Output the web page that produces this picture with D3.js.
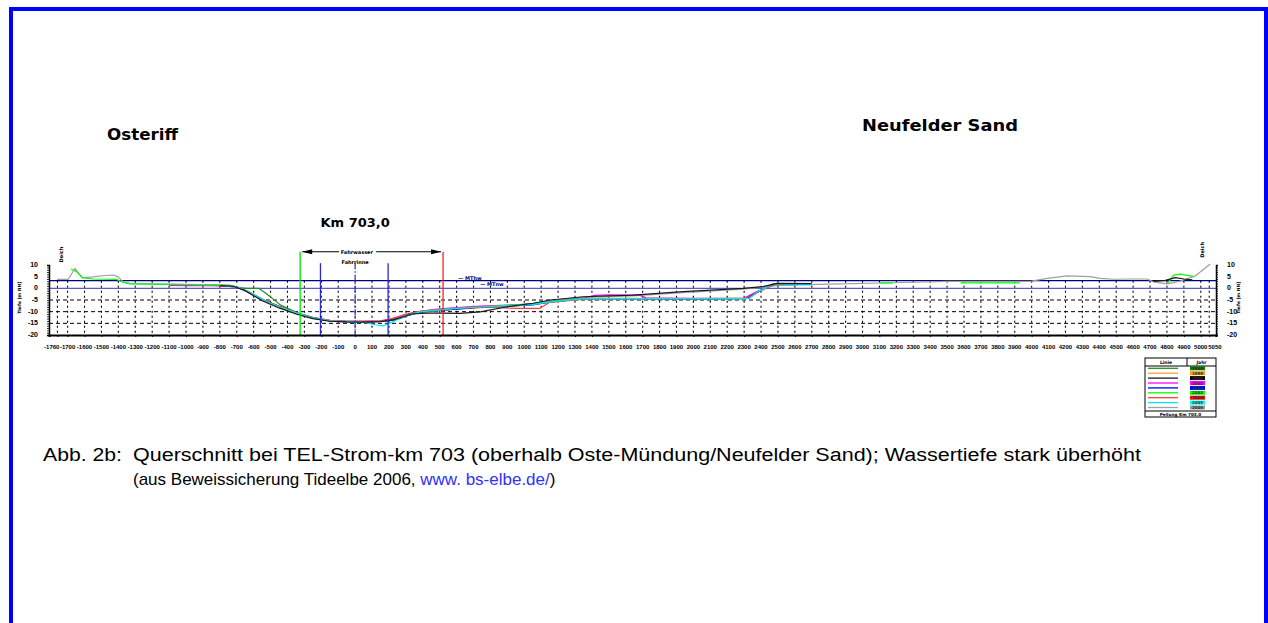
<!DOCTYPE html>
<html>
<head>
<meta charset="utf-8">
<script src="https://cdn.jsdelivr.net/npm/d3@7"></script>
<style>
html,body{margin:0;padding:0;background:#fff;}
svg{display:block;}
</style>
</head>
<body>
<svg id="chart" width="1268" height="623"></svg>
<script>
// Survey years and their line colours (legend order)
const years = ["1998","1999","2000","2001","2002","2003","2004","2005","2006"];
const lineColors = ["#1f8f1f","#ffa040","#1a1a1a","#ff00ff","#0000ff","#00ff00","#ff3b3b","#00e5ff","#a0a0a0"];
const boxColors  = ["#008000","#ff9900","#000000","#ff00ff","#0000ff","#00ff00","#ff0000","#00ffff","#999999"];

// Axis ticks
const heightTicks = [10, 5, 0, -5, -10, -15, -20];
const dashedLevels = [-5, -10, -15];
const stationTicks = [-1760,-1700,-1600,-1500,-1400,-1300,-1200,-1100,-1000,-900,-800,-700,-600,-500,-400,-300,-200,-100,0,100,200,300,400,500,600,700,800,900,1000,1100,1200,1300,1400,1500,1600,1700,1800,1900,2000,2100,2200,2300,2400,2500,2600,2700,2800,2900,3000,3100,3200,3300,3400,3500,3600,3700,3800,3900,4000,4100,4200,4300,4400,4500,4600,4700,4800,4900,5000,5050];

// Tide levels [m NN]
const mthw = 3.3;
const mtnw = 0.0;

// Fairway marks [m from axis]
const fahrwasser = [-325, 520];
const fahrrinne = [-205, 195];
const achse = 0;

// Cross-section surveys: [station m, height m NN]; null = no data
const p1998 = [[-850,1.3],[-760,1.2],[-700,0.3],[-640,0.0],[-570,0.0],[-520,-2.5],[-443,-7.1],[-345,-10.4],[-250,-12.4],[-150,-13.7],[-50,-14.1],[50,-14.2],[150,-14.0],[220,-13.3],[270,-12.4],[320,-11.2],[390,-10.2],[490,-9.6],[590,-8.9],[740,-8.2],[900,-7.4],[1050,-6.8],[1160,-5.9],[1350,-4.6],[1500,-4.5],[1700,-4.4],[2000,-4.5],[2300,-4.4],[2380,-1.6],[2480,1.7],[2620,1.6]];
const p1999 = [[-820,1.2],[-720,1.0],[-660,-0.6],[-560,-4.4],[-450,-7.6],[-345,-10.9],[-250,-12.8],[-150,-13.9],[-50,-14.5],[50,-14.4],[150,-14.1],[220,-13.5],[260,-12.9],[310,-11.6],[384,-10.3],[485,-9.6],[580,-9.0],[740,-8.3],[900,-7.6],[1050,-7.0],[1153,-5.9],[1348,-4.6],[1550,-4.5],[1800,-4.6],[2050,-4.4],[2300,-4.5],[2380,-1.5],[2480,1.8],[2600,1.7]];
const p2000 = [[-800,1.2],[-720,0.9],[-650,-1.0],[-550,-5.3],[-450,-8.4],[-345,-11.1],[-250,-13.0],[-150,-14.1],[-50,-14.4],[50,-14.5],[150,-14.3],[230,-13.4],[280,-12.3],[330,-11.0],[420,-10.6],[500,-10.6],[620,-10.7],[740,-10.1],[900,-7.9],[1052,-6.4],[1153,-5.0],[1348,-3.6],[1644,-2.9],[1939,-1.4],[2294,0.0],[2412,0.7],[2495,2.1],[2700,2.0],[2750,null],[4720,3.0],[4790,3.4],[4850,4.6],[4900,4.0],[4950,3.6]];
const p2001 = [[-1100,1.3],[-980,1.2],[-850,1.1],[-740,0.9],[-670,-0.3],[-560,-4.5],[-450,-7.8],[-345,-10.6],[-250,-12.7],[-150,-13.8],[-50,-14.2],[50,-14.1],[150,-13.9],[230,-13.0],[290,-11.6],[360,-10.2],[470,-9.0],[580,-8.4],[740,-7.6],[900,-7.2],[1050,-6.6],[1153,-5.6],[1348,-4.2],[1420,-3.0],[1500,-2.8],[1680,-2.9],[1720,-4.1],[2000,-4.3],[2300,-4.2],[2380,-1.3],[2480,1.9],[2600,1.8]];
const p2002 = [[-780,1.1],[-700,0.5],[-630,-1.5],[-540,-5.0],[-440,-8.0],[-345,-10.8],[-250,-12.8],[-150,-14.0],[-50,-14.4],[50,-14.5],[150,-14.2],[220,-13.7],[260,-13.0],[310,-11.7],[384,-10.2],[485,-9.5],[580,-9.0],[740,-8.1],[900,-7.6],[1050,-7.1],[1153,-5.8],[1348,-4.4],[1600,-4.4],[1900,-4.5],[2200,-4.4],[2320,-4.3],[2390,-1.2],[2470,1.8],[2560,1.9]];
const p2003 = [[-1680,8.3],[-1645,7.0],[-1610,4.5],[-1550,4.0],[-1480,3.9],[-1410,3.8],[-1370,2.5],[-1330,1.9],[-1200,1.8],[-1000,1.6],[-900,1.5],[-760,1.3],[-690,0.4],[-620,-1.8],[-540,-5.1],[-443,-8.0],[-345,-10.7],[-250,-12.7],[-150,-13.9],[-50,-14.3],[50,-14.3],[150,-14.1],[220,-13.5],[260,-12.7],[310,-11.3],[384,-9.9],[485,-9.2],[580,-8.7],[740,-7.9],[900,-7.3],[1050,-6.7],[1153,-5.6],[1348,-4.3],[1600,-4.3],[1900,-4.4],[2200,-4.3],[2330,-4.2],[2380,-1.4],[2483,1.9],[2600,1.7],[2650,null],[3100,2.3],[3180,2.3],[3200,null],[3580,2.3],[3930,2.3],[3950,null],[4800,1.9],[4840,5.7],[4880,6.1],[4960,5.0]];
const p2004 = [[-800,1.2],[-700,0.6],[-640,-1.2],[-550,-4.8],[-450,-7.7],[-345,-10.6],[-250,-12.5],[-150,-13.7],[-50,-14.1],[50,-14.2],[150,-14.0],[200,-13.3],[250,-12.2],[300,-11.0],[384,-9.9],[485,-9.1],[580,-8.6],[740,-7.8],[950,-8.6],[1090,-8.6],[1153,-5.9],[1348,-4.5],[1600,-4.4],[1900,-4.5],[2200,-4.4],[2330,-4.3],[2380,-1.5],[2480,1.8],[2600,1.6]];
const p2005 = [[-780,1.1],[-690,0.3],[-620,-1.9],[-540,-5.2],[-443,-8.1],[-345,-10.6],[-250,-12.6],[-150,-13.9],[-50,-14.3],[50,-14.6],[120,-15.6],[165,-16.1],[210,-14.8],[260,-13.0],[310,-11.5],[384,-10.1],[485,-9.3],[580,-8.7],[740,-8.0],[900,-7.5],[1050,-7.0],[1153,-5.8],[1348,-4.4],[1600,-4.4],[1900,-4.4],[2200,-4.4],[2330,-4.3],[2385,-1.3],[2470,1.9],[2560,1.7],[2700,1.5]];
const p2006 = [[-1762,3.8],[-1697,3.8],[-1656,8.6],[-1616,4.6],[-1549,4.9],[-1478,5.5],[-1431,5.7],[-1401,4.9],[-1372,2.8],[-1330,2.1],[-1212,1.9],[-917,1.6],[-739,1.4],[-680,0.2],[-640,-1.4],[-544,-5.0],[-443,-7.9],[-345,-10.7],[-247,-12.6],[-148,-13.9],[-50,-14.3],[50,-14.4],[150,-14.2],[220,-13.6],[260,-12.8],[307,-11.4],[384,-10.0],[485,-9.4],[579,-8.8],[739,-8.0],[900,-7.5],[1052,-6.6],[1153,-5.3],[1348,-3.9],[1644,-3.2],[1939,-1.8],[2294,-0.3],[2412,0.5],[2513,1.4],[2800,1.8],[3181,2.4],[3500,3.0],[3950,3.0],[4000,3.1],[4092,4.3],[4210,5.3],[4346,5.0],[4405,4.3],[4482,3.9],[4600,4.0],[4683,4.0],[4719,2.8],[4802,1.9],[4878,3.1],[4967,5.3],[5056,10.4]];

const profiles = [p1998, p1999, p2000, p2001, p2002, p2003, p2004, p2005, p2006];
const drawOrder = [8, 0, 1, 3, 4, 5, 6, 7, 2];

const svg = d3.select("#chart");
svg.append("rect").attr("width", 1268).attr("height", 623).attr("fill", "#fff");

// page frame
svg.append("rect")
  .attr("x", 11).attr("y", 9).attr("width", 1255).attr("height", 700)
  .attr("fill", "none").attr("stroke", "#0000ff").attr("stroke-width", 4);

const x = d3.scaleLinear().domain([-1810, 5090]).range([49, 1216]);
const y = d3.scaleLinear().domain([-20, 10]).range([335, 265]);

const bold = "'DejaVu Sans', Verdana, sans-serif";
const arial = "'Liberation Sans', Arial, sans-serif";

// place names and profile title
svg.append("text").attr("x", 107).attr("y", 140).attr("font-family", bold)
  .attr("font-weight", "bold").attr("font-size", 16.5).attr("fill", "#000")
  .attr("textLength", 71).attr("lengthAdjust", "spacingAndGlyphs").text("Osteriff");
svg.append("text").attr("x", 862).attr("y", 131).attr("font-family", bold)
  .attr("font-weight", "bold").attr("font-size", 16.5).attr("fill", "#000")
  .attr("textLength", 156).attr("lengthAdjust", "spacingAndGlyphs").text("Neufelder Sand");
svg.append("text").attr("x", x(0)).attr("y", 227).attr("text-anchor", "middle").attr("font-family", bold)
  .attr("font-weight", "bold").attr("font-size", 13).attr("fill", "#000").text("Km 703,0");

const g = svg.append("g");

// vertical dotted grid at stations
g.selectAll("line.vg").data(stationTicks).join("line").attr("class", "vg")
  .attr("x1", d => x(d)).attr("x2", d => x(d))
  .attr("y1", y(mthw)).attr("y2", y(-20))
  .attr("stroke", "#000").attr("stroke-width", 1.1).attr("stroke-dasharray", "2,3");

// horizontal dashed grid
g.selectAll("line.hg").data(dashedLevels).join("line").attr("class", "hg")
  .attr("x1", x.range()[0]).attr("x2", x.range()[1])
  .attr("y1", d => y(d)).attr("y2", d => y(d))
  .attr("stroke", "#000").attr("stroke-width", 1).attr("stroke-dasharray", "4,3");

// tide levels
g.append("line").attr("x1", x.range()[0]).attr("x2", x.range()[1])
  .attr("y1", y(mthw)).attr("y2", y(mthw)).attr("stroke", "#00007a").attr("stroke-width", 1.3);
g.append("line").attr("x1", x.range()[0]).attr("x2", x.range()[1])
  .attr("y1", y(mtnw)).attr("y2", y(mtnw)).attr("stroke", "#5a5ac8").attr("stroke-width", 1.3);
g.append("text").attr("x", x(610)).attr("y", y(mthw) - 1).attr("font-family", bold).attr("font-weight", "bold")
  .attr("font-size", 5).attr("fill", "#00007a").text("— MThw");
g.append("text").attr("x", x(740)).attr("y", y(mtnw) - 2).attr("font-family", bold).attr("font-weight", "bold")
  .attr("font-size", 5).attr("fill", "#00007a").text("— MTnw");

// survey profiles
const line = d3.line().defined(d => d[1] !== null).x(d => x(d[0])).y(d => y(d[1]));
g.selectAll("path.prof").data(drawOrder).join("path").attr("class", "prof")
  .attr("d", i => line(profiles[i]))
  .attr("fill", "none").attr("stroke", i => lineColors[i]).attr("stroke-width", 1.2)
  .attr("stroke-linejoin", "round");

// fairway limits
const arrowY = y(15.7);
const rinneTop = y(10.8);
g.append("line").attr("x1", x(fahrwasser[0])).attr("x2", x(fahrwasser[0]))
  .attr("y1", arrowY).attr("y2", y(-20)).attr("stroke", "#00e000").attr("stroke-width", 1.3);
g.append("line").attr("x1", x(fahrwasser[1])).attr("x2", x(fahrwasser[1]))
  .attr("y1", arrowY).attr("y2", y(-20)).attr("stroke", "#ff2020").attr("stroke-width", 1.3);
g.selectAll("line.rinne").data(fahrrinne).join("line").attr("class", "rinne")
  .attr("x1", d => x(d)).attr("x2", d => x(d)).attr("y1", rinneTop).attr("y2", y(-20))
  .attr("stroke", "#2a2ad0").attr("stroke-width", 1.3);
g.append("line").attr("x1", x(achse)).attr("x2", x(achse)).attr("y1", rinneTop).attr("y2", y(-20))
  .attr("stroke", "#2a2ad0").attr("stroke-width", 1.2).attr("stroke-dasharray", "6,2,1.5,2");

// Fahrwasser dimension arrow
const xa = x(fahrwasser[0]) + 2, xb = x(fahrwasser[1]) - 2;
g.append("line").attr("x1", xa).attr("x2", xb).attr("y1", arrowY).attr("y2", arrowY)
  .attr("stroke", "#000").attr("stroke-width", 1.1);
g.append("path").attr("d", `M${xa},${arrowY}L${xa + 10},${arrowY - 2.5}L${xa + 10},${arrowY + 2.5}Z`).attr("fill", "#000");
g.append("path").attr("d", `M${xb},${arrowY}L${xb - 10},${arrowY - 2.5}L${xb - 10},${arrowY + 2.5}Z`).attr("fill", "#000");
g.append("rect").attr("x", x(0) - 16).attr("y", arrowY - 3).attr("width", 37).attr("height", 6).attr("fill", "#fff");
g.append("text").attr("x", x(10)).attr("y", arrowY + 2).attr("text-anchor", "middle").attr("font-family", bold)
  .attr("font-weight", "bold").attr("font-size", 5).text("Fahrwasser");
g.append("text").attr("x", x(0)).attr("y", rinneTop + 1).attr("text-anchor", "middle").attr("font-family", bold)
  .attr("font-weight", "bold").attr("font-size", 5).text("Fahrrinne");

// left and right height axes
const leftAxis = d3.axisLeft(y).tickValues(d3.range(-20, 11, 1)).tickSize(2).tickFormat("");
const rightAxis = d3.axisRight(y).tickValues(d3.range(-20, 11, 1)).tickSize(2).tickFormat("");
const la = svg.append("g").attr("transform", `translate(${x.range()[0]},0)`).call(leftAxis);
const ra = svg.append("g").attr("transform", `translate(${x.range()[1]},0)`).call(rightAxis);
[la, ra].forEach(a => {
  a.select(".domain").attr("stroke", "#000").attr("stroke-width", 1.5);
  a.selectAll(".tick line").attr("stroke", "#000").attr("stroke-width", 0.8);
});
svg.selectAll("text.ly").data(heightTicks).join("text").attr("class", "ly")
  .attr("x", x.range()[0] - 11).attr("y", d => y(d) + 2).attr("text-anchor", "end")
  .attr("font-family", arial).attr("font-weight", "bold").attr("font-size", 7).text(d => d);
svg.selectAll("text.ry").data(heightTicks).join("text").attr("class", "ry")
  .attr("x", x.range()[1] + 11).attr("y", d => y(d) + 2).attr("text-anchor", "start")
  .attr("font-family", arial).attr("font-weight", "bold").attr("font-size", 7).text(d => d);
svg.append("text").attr("transform", `translate(21,${y(-4)}) rotate(-90)`).attr("text-anchor", "middle")
  .attr("font-family", bold).attr("font-weight", "bold").attr("font-size", 4.5).text("Tiefe [m NN]");
svg.append("text").attr("transform", `translate(1240,${y(-4)}) rotate(-90)`).attr("text-anchor", "middle")
  .attr("font-family", bold).attr("font-weight", "bold").attr("font-size", 4.5).text("Tiefe [m NN]");
svg.append("text").attr("transform", `translate(${x(-1730)},${y(14.5)}) rotate(-90)`).attr("text-anchor", "middle")
  .attr("font-family", bold).attr("font-weight", "bold").attr("font-size", 5).text("Deich");
svg.append("text").attr("transform", `translate(${x(5020)},${y(16.5)}) rotate(-90)`).attr("text-anchor", "middle")
  .attr("font-family", bold).attr("font-weight", "bold").attr("font-size", 5).text("Deich");

// station axis
const bottomAxis = d3.axisBottom(x).tickValues(stationTicks).tickSize(2).tickFormat("");
const ba = svg.append("g").attr("transform", `translate(0,${y(-20)})`).call(bottomAxis);
ba.select(".domain").attr("stroke", "#000").attr("stroke-width", 2);
ba.selectAll(".tick line").attr("stroke", "#000");
const lastTick = stationTicks.length - 1;
svg.selectAll("text.sx").data(stationTicks).join("text").attr("class", "sx")
  .attr("x", (d, i) => i === 0 ? x(d) + 2 : i === lastTick ? x(d) - 1 : x(d))
  .attr("y", 349)
  .attr("text-anchor", (d, i) => i === 0 ? "end" : i === lastTick ? "start" : "middle")
  .attr("font-family", arial).attr("font-weight", "bold").attr("font-size", 6).text(d => d);

// legend
const lg = svg.append("g");
const L = {x: 1145, y: 358, w: 71, h: 59, head: 8, foot: 6, div: 1187};
lg.append("rect").attr("x", L.x).attr("y", L.y).attr("width", L.w).attr("height", L.h)
  .attr("fill", "#fff").attr("stroke", "#000").attr("stroke-width", 1);
lg.append("line").attr("x1", L.x).attr("x2", L.x + L.w).attr("y1", L.y + L.head).attr("y2", L.y + L.head).attr("stroke", "#000");
lg.append("line").attr("x1", L.div).attr("x2", L.div).attr("y1", L.y).attr("y2", L.y + L.head).attr("stroke", "#000");
lg.append("line").attr("x1", L.x).attr("x2", L.x + L.w).attr("y1", L.y + L.h - L.foot).attr("y2", L.y + L.h - L.foot).attr("stroke", "#000");
lg.append("text").attr("x", (L.x + L.div) / 2).attr("y", L.y + 6).attr("text-anchor", "middle")
  .attr("font-family", bold).attr("font-weight", "bold").attr("font-size", 4.5).text("Linie");
lg.append("text").attr("x", (L.div + L.x + L.w) / 2).attr("y", L.y + 6).attr("text-anchor", "middle")
  .attr("font-family", bold).attr("font-weight", "bold").attr("font-size", 4.5).text("Jahr");
lg.append("text").attr("x", L.x + L.w / 2).attr("y", L.y + L.h - 1.5).attr("text-anchor", "middle")
  .attr("font-family", bold).attr("font-weight", "bold").attr("font-size", 4.2).text("Peilung Km 703,0");
const rowY = d3.scalePoint().domain(years).range([L.y + 10.3, L.y + 49.5]);
lg.selectAll("line.ll").data(years).join("line").attr("class", "ll")
  .attr("x1", L.x + 3).attr("x2", L.x + 33).attr("y1", d => rowY(d)).attr("y2", d => rowY(d))
  .attr("stroke", (d, i) => lineColors[i]).attr("stroke-width", 1.3);
lg.selectAll("rect.lb").data(years).join("rect").attr("class", "lb")
  .attr("x", 1190).attr("y", d => rowY(d) - 2).attr("width", 15).attr("height", 4)
  .attr("fill", (d, i) => boxColors[i]);
lg.selectAll("text.lt").data(years).join("text").attr("class", "lt")
  .attr("x", 1197.5).attr("y", d => rowY(d) + 1.5).attr("text-anchor", "middle")
  .attr("font-family", bold).attr("font-weight", "bold").attr("font-size", 4).attr("fill", "#333").text(d => d);

// caption
svg.append("text").attr("x", 43).attr("y", 461).attr("font-family", arial).attr("font-size", 18)
  .attr("textLength", 79).attr("lengthAdjust", "spacingAndGlyphs").text("Abb. 2b:");
svg.append("text").attr("x", 133).attr("y", 461).attr("font-family", arial).attr("font-size", 18)
  .attr("textLength", 1008).attr("lengthAdjust", "spacingAndGlyphs")
  .text("Querschnitt bei TEL-Strom-km 703 (oberhalb Oste-Mündung/Neufelder Sand); Wassertiefe stark überhöht");
const c2 = svg.append("text").attr("x", 133).attr("y", 485).attr("font-family", arial).attr("font-size", 17);
c2.append("tspan").text("(aus Beweissicherung Tideelbe 2006, ");
c2.append("tspan").attr("fill", "#3030ff").text("www. bs-elbe.de/");
c2.append("tspan").text(")");
</script>
</body>
</html>
